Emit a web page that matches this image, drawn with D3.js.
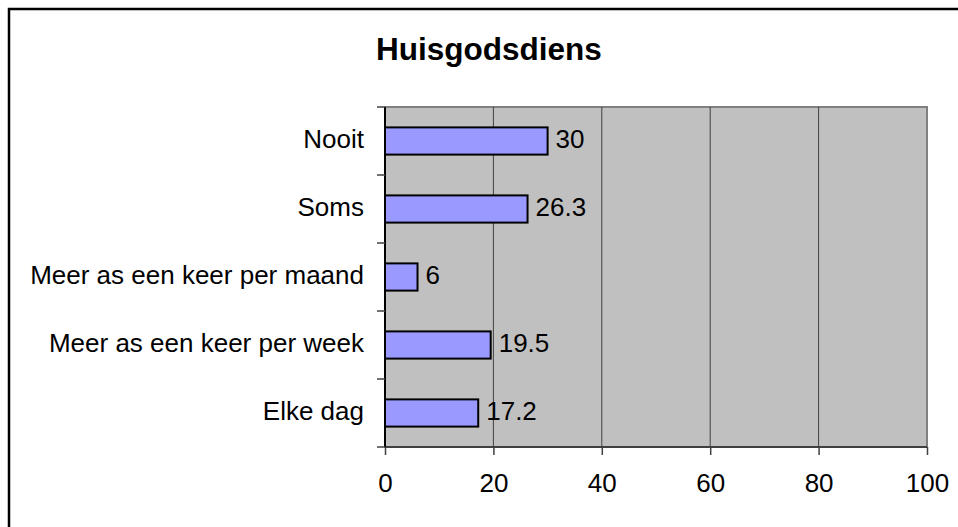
<!DOCTYPE html>
<html><head><meta charset="utf-8">
<script src="https://cdn.jsdelivr.net/npm/d3@7/dist/d3.min.js"></script>
<style>body{margin:0;background:#fff}svg{display:block}text{font-family:"Liberation Sans",Arial,sans-serif}</style>
</head><body>
<svg id="c" width="958" height="527"></svg>
<script>
const categories = ["Nooit","Soms","Meer as een keer per maand","Meer as een keer per week","Elke dag"];
const values = [30, 26.3, 6, 19.5, 17.2];
const xTicks = [0, 20, 40, 60, 80, 100];
const title = "Huisgodsdiens";

const svg = d3.select("#c");
const L = 385, R = 927, T = 107, B = 447;
const FS = 26;
const x = d3.scaleLinear().domain([0,100]).range([L,R]);
const y = d3.scaleBand().domain(categories).range([T,B]).paddingInner(0.6).paddingOuter(0.3);
const yb = d3.scaleBand().domain(categories).range([T,B]);

// outer frame
svg.append("rect").attr("x",9).attr("y",9).attr("width",960).attr("height",530)
  .attr("fill","#fff").attr("stroke","#000").attr("stroke-width",2.5);

svg.append("text").attr("x",489).attr("y",60).attr("text-anchor","middle")
  .attr("font-size",31.5).attr("font-weight","bold").text(title);

// plot area
svg.append("rect").attr("x",L).attr("y",T).attr("width",R-L).attr("height",B-T)
  .attr("fill","#c0c0c0").attr("stroke","#808080").attr("stroke-width",2);

// gridlines
svg.append("g").selectAll("line").data(xTicks.filter(d=>d>0 && d<100)).join("line")
  .attr("x1",d=>x(d)).attr("x2",d=>x(d)).attr("y1",T).attr("y2",B)
  .attr("stroke","#404040").attr("stroke-width",1);

// bars
svg.append("g").selectAll("rect").data(values).join("rect")
  .attr("x",L).attr("y",(d,i)=>y(categories[i]))
  .attr("width",d=>x(d)-L).attr("height",y.bandwidth())
  .attr("fill","#9999ff").attr("stroke","#000").attr("stroke-width",2);

// value labels
svg.append("g").selectAll("text").data(values).join("text")
  .attr("x",d=>x(d)+8).attr("y",(d,i)=>y(categories[i])+y.bandwidth()/2)
  .attr("dy","0.28em").attr("font-size",FS).text(d=>d);

// axes
const xAxis = d3.axisBottom(x).tickValues(xTicks).tickSize(8).tickPadding(0).tickFormat(d3.format("d"));
const gx = svg.append("g").attr("transform",`translate(0,${B})`).call(xAxis);
gx.select(".domain").attr("stroke","#404040").attr("stroke-width",2).attr("d",`M${L},0H${R}`);
gx.selectAll(".tick line").attr("stroke","#404040").attr("stroke-width",1.5);
gx.selectAll(".tick text").attr("font-size",FS).attr("fill","#000").attr("y",45).attr("dy",null)
  .attr("font-family","Liberation Sans, Arial, sans-serif");

// left axis with ticks at band boundaries
const gy = svg.append("g");
gy.append("line").attr("x1",L).attr("x2",L).attr("y1",T).attr("y2",B).attr("stroke","#000").attr("stroke-width",2);
const bounds = categories.map(c=>yb(c)).concat([B]);
gy.selectAll(".tk").data(bounds).join("line").attr("class","tk")
  .attr("x1",L-8).attr("x2",L).attr("y1",d=>d).attr("y2",d=>d).attr("stroke","#404040").attr("stroke-width",1.5);
gy.selectAll("text").data(categories).join("text")
  .attr("x",L-21).attr("y",d=>yb(d)+yb.bandwidth()/2).attr("dy","0.28em")
  .attr("text-anchor","end").attr("font-size",FS).text(d=>d);
</script>
</body></html>
